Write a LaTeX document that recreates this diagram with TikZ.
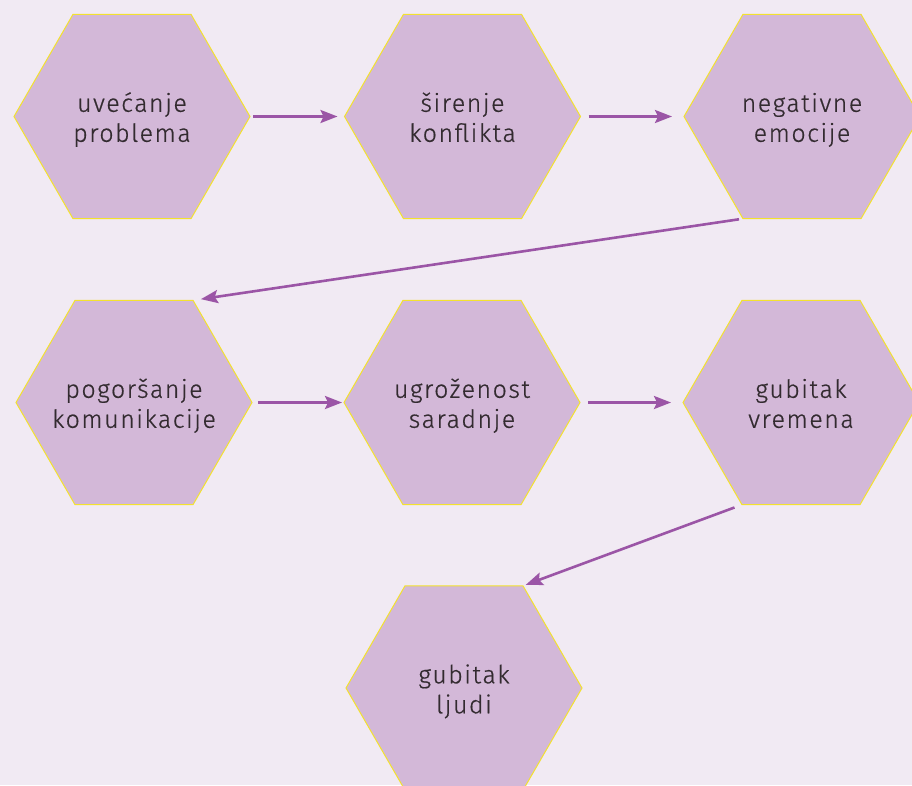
\documentclass[tikz,border=0pt]{standalone}
\usepackage{fontspec}
\setmainfont{Fira Sans}[UprightFont={* Light},LetterSpace=6,FakeBold=0.6]
\usetikzlibrary{shapes.geometric,arrows.meta}
\definecolor{bgc}{HTML}{F1EAF3}
\definecolor{hexfill}{HTML}{D3B8D8}
\definecolor{hexline}{HTML}{F3E22E}
\definecolor{arrc}{HTML}{9B55A6}
\definecolor{txtc}{HTML}{332B30}
\newcommand{\hextext}[2]{\raisebox{-10.5pt}[0pt][0pt]{\makebox[0pt]{\begin{tabular}{@{}c@{}}#1\\#2\end{tabular}}}}
\tikzset{
  hexbox/.style={regular polygon, regular polygon sides=6, minimum size=236pt,
    inner sep=0pt, outer sep=0pt, fill=hexfill, draw=hexline, line width=1pt,
    text=txtc, font=\fontsize{25}{30}\selectfont},
  arr/.style={draw=arrc, line width=2.6pt,
    -{Stealth[length=17pt,width=13pt,inset=3pt]}}
}
\begin{document}
\begin{tikzpicture}[x=1pt,y=-1pt]
\fill[bgc] (0,0) rectangle (912,785);
\useasboundingbox (0,0) rectangle (912,785);
\node[hexbox] (a1) at (132,116.5) {\hextext{uvećanje}{problema}};
\node[hexbox] (a2) at (462.5,116.5) {\hextext{širenje}{konflikta}};
\node[hexbox] (a3) at (802,116.5) {\hextext{negativne}{emocije}};
\node[hexbox] (b1) at (134,402.5) {\hextext{pogoršanje}{komunikacije}};
\node[hexbox] (b2) at (462,402.5) {\hextext{ugroženost}{saradnje}};
\node[hexbox] (b3) at (801,402.5) {\hextext{gubitak}{vremena}};
\node[hexbox] (c1) at (464,688) {\hextext{gubitak}{ljudi}};
\draw[arr, shorten <=3pt, shorten >=7pt] (a1.east) -- (a2.west);
\draw[arr, shorten <=8pt, shorten >=12pt] (a2.east) -- (a3.west);
\draw[arr, shorten <=4pt, shorten >=8pt] (a3.240) -- (b1.60);
\draw[arr, shorten <=6pt, shorten >=2pt] (b1.east) -- (b2.west);
\draw[arr, shorten <=8pt, shorten >=12pt] (b2.east) -- (b3.west);
\draw[arr, shorten <=8pt, shorten >=3pt] (b3.240) -- (c1.60);
\end{tikzpicture}
\end{document}
